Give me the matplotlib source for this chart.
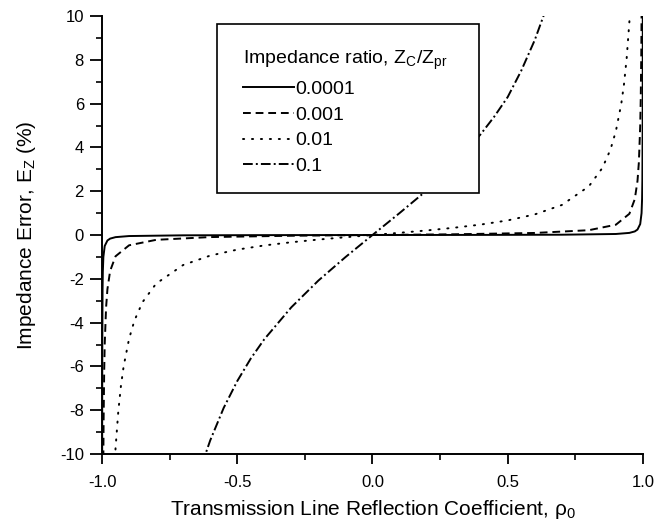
import matplotlib as mpl
mpl.use('agg')
import matplotlib.pyplot as plt
from matplotlib.patches import Rectangle
from matplotlib.ticker import MultipleLocator

plt.rc('font', family='Liberation Sans')
plt.rc('mathtext', default='regular')
plt.rc('axes', unicode_minus=False)

# rho_0 vs impedance error (%)
rho_1e4 = [-0.9996, -0.9995, -0.9993, -0.999, -0.998, -0.997, -0.995, -0.99, -0.98, -0.97,
           -0.95, -0.9, -0.7, -0.4, 0.0, 0.4, 0.7, 0.9, 0.95, 0.97, 0.98, 0.99, 0.995,
           0.997, 0.998, 0.999, 0.9993, 0.9995, 0.9996]
err_1e4 = [-12.5, -10.0, -7.14, -5.0, -2.5, -1.66, -1.0, -0.5, -0.25, -0.164,
           -0.097, -0.047, -0.014, -0.005, 0.0, 0.005, 0.014, 0.047, 0.097, 0.164, 0.25, 0.5, 1.0,
           1.66, 2.5, 5.0, 7.14, 10.0, 12.5]

rho_1e3 = [-0.996, -0.995, -0.994, -0.992, -0.99, -0.985, -0.98, -0.97, -0.95, -0.9, -0.8,
           -0.6, -0.3, 0.0, 0.3, 0.6, 0.8, 0.9, 0.95, 0.97, 0.98, 0.985, 0.99, 0.992,
           0.994, 0.995, 0.996]
err_1e3 = [-12.5, -9.97, -8.31, -6.22, -4.97, -3.31, -2.47, -1.64, -0.97, -0.47, -0.22,
           -0.094, -0.033, 0.0, 0.033, 0.094, 0.22, 0.47, 0.97, 1.64, 2.47, 3.31, 4.97, 6.22,
           8.31, 9.97, 12.5]

rho_1e2 = [-0.96, -0.95, -0.94, -0.93, -0.92, -0.9, -0.88, -0.85, -0.8, -0.7, -0.6, -0.5,
           -0.4, -0.3, -0.2, -0.1, 0.0, 0.1, 0.2, 0.3, 0.4, 0.5, 0.6, 0.7, 0.8, 0.85, 0.88,
           0.9, 0.92, 0.93, 0.94, 0.95, 0.96]
err_1e2 = [-12.24, -9.74, -8.08, -6.88, -5.99, -4.74, -3.90, -3.06, -2.22, -1.37, -0.94, -0.667,
           -0.476, -0.330, -0.208, -0.101, 0.0, 0.101, 0.208, 0.330, 0.476, 0.667, 0.94, 1.37,
           2.22, 3.06, 3.90, 4.74, 5.99, 6.88, 8.08, 9.74, 12.24]

rho_1e1 = [-0.63, -0.6, -0.55, -0.5, -0.45, -0.4, -0.3, -0.2, -0.1, 0.0,
           0.1, 0.2, 0.3, 0.4, 0.45, 0.5, 0.55, 0.6, 0.65]
err_1e1 = [-10.45, -9.38, -7.89, -6.67, -5.64, -4.76, -3.30, -2.08, -1.01, 0.0,
           1.0, 2.03, 3.2, 4.6, 5.4, 6.3, 7.5, 8.9, 10.6]

labels = ['0.0001', '0.001', '0.01', '0.1']

fig = plt.figure(figsize=(6.69, 5.25), dpi=100)
ax = fig.add_axes([0.1525, 0.1352, 0.8085, 0.8343])

lw = 1.4
ax.plot(rho_1e4, err_1e4, 'k-', lw=lw, label=labels[0])
ax.plot(rho_1e3, err_1e3, 'k', lw=lw, dashes=(4, 2.5), label=labels[1])
ax.plot(rho_1e2, err_1e2, 'k', lw=lw, dashes=(0.6, 4), dash_capstyle='round', label=labels[2])
ax.plot(rho_1e1, err_1e1, 'k', lw=lw, dashes=(5, 1.6, 1, 1.6), label=labels[3])

ax.set_xlim(-1, 1)
ax.set_ylim(-10, 10)
ax.xaxis.set_major_locator(MultipleLocator(0.5))
ax.xaxis.set_minor_locator(MultipleLocator(0.25))
ax.yaxis.set_major_locator(MultipleLocator(2))
ax.yaxis.set_minor_locator(MultipleLocator(1))
ax.xaxis.set_major_formatter(mpl.ticker.FormatStrFormatter('%.1f'))
ax.tick_params(which='major', direction='out', length=7, width=1.3, labelsize=12)
ax.tick_params(axis='x', which='major', pad=8)
ax.tick_params(axis='y', which='major', length=9, pad=4)
ax.tick_params(which='minor', direction='out', length=4, width=1.2)
for s in ['top', 'right']:
    ax.spines[s].set_visible(False)
for s in ['left', 'bottom']:
    ax.spines[s].set_linewidth(1.4)

ax.set_xlabel('Transmission Line Reflection Coefficient, ρ$_0$', fontsize=15, labelpad=6)
ax.set_ylabel('Impedance Error, E$_Z$ (%)', fontsize=15, labelpad=16)

# legend box
box = Rectangle((0.2126, 0.5959), 0.4843, 0.3858, transform=ax.transAxes,
                facecolor='white', edgecolor='black', lw=1.2, zorder=5)
ax.add_patch(box)
leg = ax.legend(title='Impedance ratio, Z$_C$/Z$_{pr}$', loc='upper left',
                bbox_to_anchor=(0.2606, 0.925), frameon=False, fontsize=14,
                title_fontsize=14, handlelength=2.6, handletextpad=0.1,
                labelspacing=0.42, borderpad=0, borderaxespad=0, alignment='left')
leg.set_zorder(6)

fig.savefig('out.png', dpi=100)
